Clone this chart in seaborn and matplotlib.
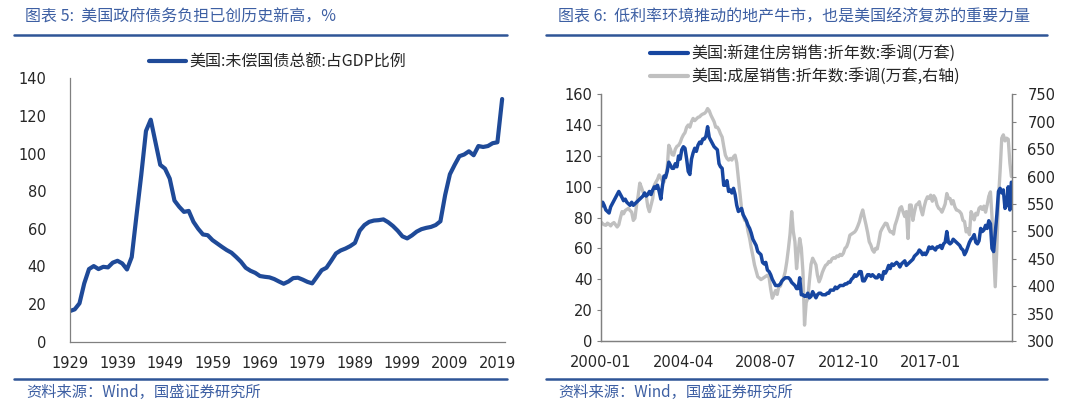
import numpy as np
import pandas as pd
import matplotlib
matplotlib.use("Agg")
import matplotlib.pyplot as plt
import matplotlib.dates as mdates
from matplotlib.lines import Line2D
from matplotlib.font_manager import FontProperties
import seaborn as sns

# ---- chart 5: US federal debt / GDP, annual ----
years = list(range(1929, 2021))
debt_gdp = [16.3, 17.2, 20.4, 31.0, 38.6, 40.2, 38.6, 39.8, 39.5, 42.0,
            43.0, 41.6, 38.4, 45.0, 67.0, 88.5, 112.0, 118.0, 106.0, 94.0,
            92.0, 86.7, 75.0, 71.7, 69.0, 69.5, 63.7, 60.0, 57.0, 56.6,
            54.0, 52.2, 50.4, 48.7, 47.3, 45.0, 42.5, 39.3, 37.7, 36.6,
            34.9, 34.5, 34.2, 33.3, 32.0, 30.8, 32.0, 33.8, 34.0, 33.0,
            31.8, 31.0, 34.5, 38.0, 39.3, 43.0, 46.9, 48.5, 49.5, 50.8,
            52.5, 59.0, 62.0, 63.7, 64.4, 64.6, 65.0, 63.5, 61.5, 59.0,
            56.0, 54.9, 56.5, 58.5, 59.8, 60.5, 61.0, 62.0, 64.0, 78.0,
            89.0, 94.0, 98.6, 99.5, 101.2, 99.1, 104.0, 103.5, 104.0, 105.5,
            106.0, 129.0]
year_ticks = [1929, 1939, 1949, 1959, 1969, 1979, 1989, 1999, 2009, 2019]

# ---- chart 6: US home sales, monthly 2000-01 .. 2021-03 ----
months = pd.date_range("2000-01-01", periods=255, freq="MS")
new_home = [
    87, 90, 88, 85, 84, 83, 87, 89, 91, 93, 95, 97,      # 2000
    95, 93, 91, 92, 90, 89, 88, 90, 88, 89, 90, 91,      # 2001
    92, 93, 94, 96, 94, 95, 97, 95, 98, 100, 99, 101,    # 2002
    97, 92, 100, 107, 106, 110, 116, 114, 112, 112, 115, 113,
    120, 118, 124, 126, 125, 118, 110, 108, 118, 122, 125, 123,
    127, 129, 128, 131, 131, 133, 139, 132, 130, 128, 126, 125,
    124, 115, 113, 112, 101, 101, 104, 97, 98, 96, 99, 95,
    88, 84, 85, 86, 82, 80, 78, 75, 73, 70, 66, 64,
    62, 58, 57, 56, 51, 50, 51, 46, 45, 43, 40, 38,
    36, 36, 36, 37, 39, 40, 41, 41, 41, 40, 38, 37,
    36, 34, 34, 41, 30, 30, 29, 29, 31, 28, 29, 32,
    30, 28, 30, 31, 31, 30, 30, 30, 31, 31, 33, 33,
    33, 35, 34, 35, 36, 36, 36, 37, 37, 38, 38, 40,
    41, 43, 42, 43, 45, 45, 39, 39, 41, 43, 43, 42,
    43, 42, 41, 41, 43, 42, 40, 45, 44, 46, 49, 47,
    50, 49, 50, 51, 50, 48, 50, 51, 52, 49, 50, 51,
    52, 53, 55, 56, 57, 59, 58, 56, 57, 56, 58, 61,
    60, 61, 60, 59, 61, 61, 62, 60, 63, 64, 71, 64,
    63, 64, 66, 65, 64, 63, 62, 60, 59, 56, 58, 61,
    64, 66, 67, 69, 64, 63, 65, 73, 71, 72, 75, 73,
    78, 76, 60, 58, 70, 82, 97, 99, 96, 98, 86, 88,
    100, 85, 103]
existing_home = [
    517, 514, 512, 511, 515, 513, 510, 514, 516, 512, 508, 512,
    525, 536, 532, 538, 540, 542, 538, 535, 520, 524, 548, 565,
    588, 580, 572, 570, 565, 545, 536, 548, 560, 584, 590, 595,
    603, 598, 592, 590, 600, 615, 657, 650, 640, 639, 650, 655,
    657, 662, 670, 676, 680, 690, 694, 690, 700, 706, 702, 705,
    708, 709, 712, 714, 715, 718, 724, 720, 712, 706, 700, 690,
    690, 685, 678, 672, 655, 639, 633, 630, 633, 630, 636, 639,
    625, 597, 570, 542, 530, 520, 518, 500, 487, 470, 455, 439,
    428, 417, 415, 412, 414, 416, 418, 420, 416, 395, 378, 385,
    392, 385, 398, 400, 408, 415, 426, 445, 469, 495, 536, 500,
    481, 432, 460, 487, 470, 426, 329, 370, 378, 410, 440, 451,
    445, 439, 420, 408, 415, 425, 432, 438, 440, 445, 444, 450,
    452, 451, 455, 454, 458, 456, 460, 469, 472, 480, 493, 495,
    497, 499, 503, 510, 518, 530, 539, 525, 512, 498, 481, 475,
    466, 462, 469, 468, 482, 499, 505, 510, 515, 514, 505, 499,
    499, 495, 511, 520, 530, 542, 545, 535, 527, 536, 487, 548,
    548, 520, 535, 548, 550, 554, 540, 530, 545, 556, 563, 560,
    566, 555, 565, 560, 548, 542, 540, 535, 542, 550, 569, 560,
    560, 550, 556, 545, 539, 538, 536, 532, 520, 518, 499, 505,
    494, 536, 530, 521, 533, 530, 542, 545, 540, 546, 535, 548,
    564, 572, 527, 462, 399, 470, 560, 610, 670, 676, 665, 670,
    668, 625, 600]
month_ticks = pd.to_datetime(["2000-01-01", "2004-04-01", "2008-07-01",
                              "2012-10-01", "2017-01-01"])

BLUE = "#1F4A98"
BLUE2 = "#1746A0"
GRAY = "#C0C0C0"
TITLE_C = "#3D5FA3"
RULE_C = "#2F5597"
CJK = ["Noto Sans CJK SC", "DejaVu Sans"]

sns.set_style("white")
plt.rcParams["font.family"] = ["DejaVu Sans", "Noto Sans CJK SC"]

fig = plt.figure(figsize=(10.8, 4.09), dpi=100)
W, H = 1080, 409


def fx(px):
    return px / W


def fy(py):
    return 1 - py / H


# ---------- left chart ----------
ax1 = fig.add_axes([fx(70), fy(341.7), fx(435), 263.4 / H])
sns.lineplot(x=years, y=debt_gdp, ax=ax1, color=BLUE, lw=3)
ax1.set_xlim(1929, 2020.6)
ax1.set_ylim(0, 140)
ax1.set_yticks(range(0, 141, 20))
ax1.set_xticks(year_ticks)
ax1.set_xticklabels([str(y) for y in year_ticks])
ax1.tick_params(axis="x", direction="in", length=5, pad=10, labelsize=10.5, color="#808080")
ax1.tick_params(axis="y", direction="out", length=3, pad=14, labelsize=10.5, color="#808080")
for s in ["top", "right"]:
    ax1.spines[s].set_visible(False)
for s in ["left", "bottom"]:
    ax1.spines[s].set_color("#808080")
    ax1.spines[s].set_linewidth(0.9)
ax1.set_xlabel("")
ax1.set_ylabel("")
ax1.legend([Line2D([], [], color=BLUE, lw=3)], ["美国:未偿国债总额:占GDP比例"],
           loc="center left", bbox_to_anchor=(fx(149), fy(62)), bbox_transform=fig.transFigure,
           frameon=False, prop=FontProperties(family=CJK, size=11.5),
           handlelength=2.3, handletextpad=0.25, borderpad=0, borderaxespad=0)

# ---------- right chart ----------
ax2 = fig.add_axes([fx(601), fy(341), fx(411), 246.7 / H])
ax3 = ax2.twinx()
sns.lineplot(x=months, y=existing_home, ax=ax3, color=GRAY, lw=2.4)
sns.lineplot(x=months, y=new_home, ax=ax2, color=BLUE2, lw=2.5)
ax2.set_zorder(ax3.get_zorder() + 1)
ax2.patch.set_visible(False)
ax2.set_xlim(months[0], months[-1] + pd.Timedelta(days=12))
ax2.set_ylim(0, 160)
ax2.set_yticks(range(0, 161, 20))
ax3.set_ylim(300, 750)
ax3.set_yticks(range(300, 751, 50))
ax2.set_xticks(month_ticks)
ax2.xaxis.set_major_formatter(mdates.DateFormatter("%Y-%m"))
ax2.tick_params(axis="x", direction="in", length=5, pad=10, labelsize=10.5, color="#808080")
ax2.tick_params(axis="y", direction="out", length=3, pad=3, labelsize=10.5, color="#808080")
ax3.tick_params(axis="y", direction="out", length=3, pad=8, labelsize=10.5, color="#808080")
ax2.spines["top"].set_visible(False)
ax3.spines["top"].set_visible(False)
for a in (ax2, ax3):
    for s in ["left", "bottom", "right"]:
        a.spines[s].set_color("#808080")
        a.spines[s].set_linewidth(0.9)
    a.set_xlabel("")
    a.set_ylabel("")
ax2.legend([Line2D([], [], color=BLUE2, lw=3), Line2D([], [], color=GRAY, lw=3)],
           ["美国:新建住房销售:折年数:季调(万套)", "美国:成屋销售:折年数:季调(万套,右轴)"],
           loc="center left", bbox_to_anchor=(fx(650), fy(65.5)), bbox_transform=fig.transFigure,
           frameon=False, prop=FontProperties(family=CJK, size=11.5),
           handlelength=2.4, handletextpad=0.2, borderpad=0, borderaxespad=0, labelspacing=0.35)

# ---------- titles, rules, sources ----------
fig.text(fx(25), fy(17), "图表 5:  美国政府债务负担已创历史新高，%", family=CJK,
         fontsize=11.5, color=TITLE_C, va="center", ha="left", style="italic")
fig.text(fx(558), fy(17), "图表 6:  低利率环境推动的地产牛市，也是美国经济复苏的重要力量", family=CJK,
         fontsize=11.5, color=TITLE_C, va="center", ha="left", style="italic")
for x0, x1 in [(14, 507), (546, 1047)]:
    fig.add_artist(Line2D([fx(x0), fx(x1)], [fy(35), fy(35)], color=RULE_C, lw=1.8))
    fig.add_artist(Line2D([fx(x0), fx(x1)], [fy(379), fy(379)], color=RULE_C, lw=1.8))
for x0 in (26, 558):
    fig.text(fx(x0), fy(392), "资料来源：Wind，国盛证券研究所", family=CJK,
             fontsize=11, color=TITLE_C, va="center", ha="left", style="italic")

fig.savefig("out.png", dpi=100)
